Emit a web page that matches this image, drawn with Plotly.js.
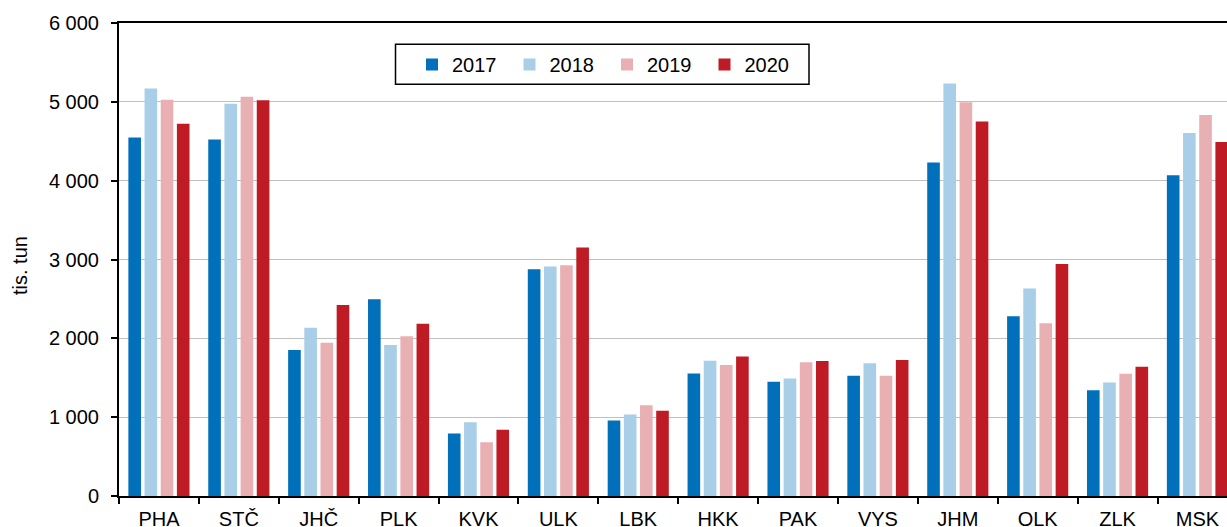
<!DOCTYPE html>
<html>
<head>
<meta charset="utf-8">
<script src="https://cdn.plot.ly/plotly-3.0.1.min.js"></script>
<style>html,body{margin:0;padding:0;background:#fff;}#chart{width:1227px;height:527px;}</style>
</head>
<body>
<div id="chart"></div>
<script>
const categories = ["PHA","STČ","JHČ","PLK","KVK","ULK","LBK","HKK","PAK","VYS","JHM","OLK","ZLK","MSK"];
const years = ["2017","2018","2019","2020"];
const v2017 = [4546,4521,1853,2497,793,2876,959,1555,1449,1525,4231,2280,1342,4069];
const v2018 = [5168,4977,2135,1917,937,2910,1035,1717,1491,1683,5232,2633,1440,4606];
const v2019 = [5028,5066,1943,2028,682,2927,1150,1662,1696,1525,4994,2190,1551,4832];
const v2020 = [4721,5019,2424,2186,839,3153,1082,1768,1713,1726,4751,2944,1640,4491];
const yTicks = [0,1000,2000,3000,4000,5000,6000];
const yTitle = "tis. tun";

const seriesValues = [v2017, v2018, v2019, v2020];
const colors = ["#0070bb", "#a8cee8", "#e8b0b3", "#be1b24"];
const FONT = "Liberation Sans, Arial, sans-serif";

const traces = years.map((yr, i) => ({
  type: "bar",
  name: yr,
  x: categories,
  y: seriesValues[i],
  marker: {color: colors[i], line: {width: 0}},
  hoverinfo: "x+y+name"
}));

// plot area in pixels: left 119, right 1227, top 23, bottom 496
const PL = 119, PR = 1227, PT = 23, PB = 496;
const px2x = p => (p - PL) / (PR - PL);
const px2y = p => (PB - p) / (PB - PT);

const layout = {
  width: 1227,
  height: 527,
  margin: {l: PL, r: 1227 - PR, t: PT, b: 527 - PB, pad: 0},
  paper_bgcolor: "#fff",
  plot_bgcolor: "#fff",
  separators: ", ",
  font: {family: FONT, size: 20, color: "#000"},
  barmode: "group",
  bargap: 0.19,
  bargroupgap: 0.22,
  showlegend: true,
  legend: {
    orientation: "h",
    x: px2x(412), xanchor: "left",
    y: px2y(45), yanchor: "top",
    borderwidth: 0,
    bgcolor: "rgba(0,0,0,0)",
    font: {family: FONT, size: 20, color: "#000"},
    entrywidth: 52.5,
    entrywidthmode: "pixels",
    traceorder: "normal"
  },
  shapes: [{
    type: "rect", xref: "paper", yref: "paper",
    x0: px2x(395.5), x1: px2x(809), y0: px2y(84.3), y1: px2y(44.3),
    line: {color: "#000", width: 1.5},
    fillcolor: "#fff",
    layer: "above"
  }],
  annotations: [{
    text: yTitle,
    xref: "paper", yref: "paper",
    x: px2x(20), y: px2y(265),
    xanchor: "center", yanchor: "middle",
    textangle: -90,
    showarrow: false,
    font: {family: FONT, size: 20, color: "#000"}
  }],
  xaxis: {
    type: "category",
    range: [-0.5, 13.37],
    showgrid: false,
    showline: true,
    linecolor: "#000",
    linewidth: 2,
    mirror: true,
    ticks: "outside",
    tickson: "boundaries",
    ticklen: 6,
    tickwidth: 2,
    tickcolor: "#000",
    ticklabelstandoff: 4,
    tickfont: {family: FONT, size: 20, color: "#000"},
    fixedrange: true
  },
  yaxis: {
    range: [0, 6000],
    tickvals: yTicks,
    tickformat: ",d",
    showgrid: true,
    gridcolor: "#c0c0c0",
    gridwidth: 1,
    zeroline: false,
    showline: true,
    linecolor: "#000",
    linewidth: 2,
    ticks: "outside",
    ticklen: 6,
    tickwidth: 2,
    tickcolor: "#000",
    ticklabelstandoff: 8,
    tickfont: {family: FONT, size: 20, color: "#000"},
    automargin: false,
    fixedrange: true
  }
};

Plotly.newPlot("chart", traces, layout, {displayModeBar: false, staticPlot: true});
</script>
</body>
</html>
